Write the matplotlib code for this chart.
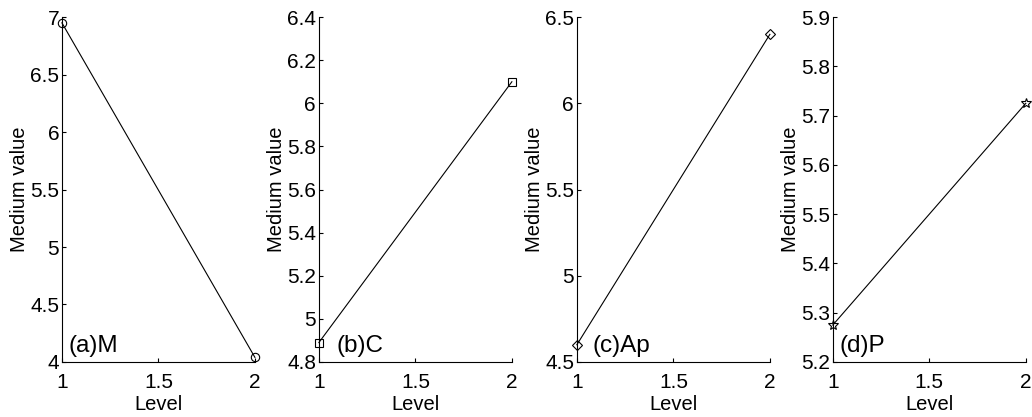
# Main effect plots of the four factors (medium value vs level)
import matplotlib.pyplot as plt

plt.rcParams['font.family'] = ['Liberation Sans', 'DejaVu Sans']

# Data
levels = [1, 2]
m_values = [6.95, 4.04]
c_values = [4.89, 6.10]
ap_values = [4.60, 6.40]
p_values = [5.275, 5.725]

panel_labels = ['(a)M', '(b)C', '(c)Ap', '(d)P']
markers = ['o', 's', 'D', '*']
ylims = [(4, 7), (4.8, 6.4), (4.5, 6.5), (5.2, 5.9)]
yticks = [[4, 4.5, 5, 5.5, 6, 6.5, 7],
          [4.8, 5, 5.2, 5.4, 5.6, 5.8, 6, 6.2, 6.4],
          [4.5, 5, 5.5, 6, 6.5],
          [5.2, 5.3, 5.4, 5.5, 5.6, 5.7, 5.8, 5.9]]
ytick_labels = [['4', '4.5', '5', '5.5', '6', '6.5', '7'],
                ['4.8', '5', '5.2', '5.4', '5.6', '5.8', '6', '6.2', '6.4'],
                ['4.5', '5', '5.5', '6', '6.5'],
                ['5.2', '5.3', '5.4', '5.5', '5.6', '5.7', '5.8', '5.9']]
series = [m_values, c_values, ap_values, p_values]

fig = plt.figure(figsize=(10.32, 4.17), dpi=100)
lefts = [0.060, 0.309, 0.559, 0.807]
text_x = [0.035, 0.09, 0.08, 0.035]
msizes = [6, 6, 5, 7]

for i in range(4):
    ax = fig.add_axes([lefts[i], 0.132, 0.187, 0.827])
    ax.plot(levels, series[i], color='black', linewidth=0.8,
            marker=markers[i], markersize=msizes[i],
            markerfacecolor='none', markeredgecolor='black', markeredgewidth=0.8,
            clip_on=False)
    ax.set_xlim(1, 2)
    ax.set_ylim(*ylims[i])
    ax.set_xticks([1, 1.5, 2])
    ax.set_xticklabels(['1', '1.5', '2'])
    ax.set_yticks(yticks[i])
    ax.set_yticklabels(ytick_labels[i])
    ax.tick_params(direction='in', length=3, labelsize=15)
    ax.tick_params(axis='x', pad=8)
    ax.tick_params(axis='y', pad=2)
    ax.spines['top'].set_visible(False)
    ax.spines['right'].set_visible(False)
    ax.set_xlabel('Level', fontsize=14.5, labelpad=2)
    ax.set_ylabel('Medium value', fontsize=14.5, labelpad=1)
    ax.text(text_x[i], 0.03, panel_labels[i], transform=ax.transAxes,
            fontsize=17.5, ha='left', va='baseline')

fig.savefig('out.png', dpi=100)
